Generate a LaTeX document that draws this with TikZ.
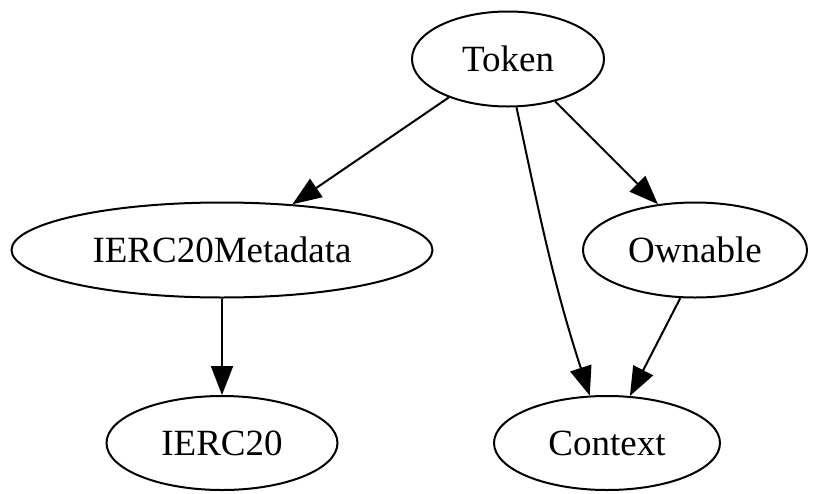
\documentclass[tikz,border=0pt]{standalone}
\usepackage{fontspec}
\setmainfont{Liberation Serif}
\usetikzlibrary{shapes.geometric, arrows.meta, positioning}

\begin{document}
\begin{tikzpicture}[x=1pt, y=-1pt,
		cls/.style = {
			ellipse, draw, line width=2pt, inner sep=0pt,
			font=\fontsize{37}{44}\selectfont
		},
		dep/.style = {
			line width=2pt, -{Triangle[length=29pt,width=22pt]}
		}]
		\useasboundingbox (0,0) rectangle (819,493);
		\node (token) [cls, minimum width=192pt, minimum height=95pt] at (508,59) {Token};
		\node (meta) [cls, minimum width=421pt, minimum height=95pt] at (222,250) {IERC20Metadata};
		\node (own) [cls, minimum width=224pt, minimum height=95pt] at (695,250) {Ownable};
		\node (erc) [cls, minimum width=231pt, minimum height=94pt] at (222,443) {IERC20};
		\node (ctx) [cls, minimum width=226pt, minimum height=94pt] at (607,443) {Context};
		\path [dep]
		(token.213) edge (meta.33)
		(token.280) edge[out=-78, in=108] (ctx.110)
		(token.-42) edge (own.129)
		(meta.south) edge (erc.north)
		(own.253) edge (ctx.64);
	\end{tikzpicture}
\end{document}
